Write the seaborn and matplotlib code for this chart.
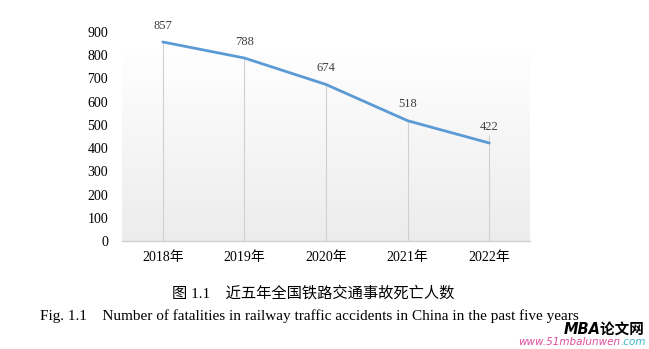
import numpy as np
import pandas as pd
import matplotlib
matplotlib.use("Agg")
import matplotlib.pyplot as plt
import seaborn as sns
from matplotlib.colors import LinearSegmentedColormap

years = ["2018年", "2019年", "2020年", "2021年", "2022年"]
deaths = [857, 788, 674, 518, 422]
yticks = [0, 100, 200, 300, 400, 500, 600, 700, 800, 900]
title_cn = "图 1.1    近五年全国铁路交通事故死亡人数"
title_en = "Fig. 1.1    Number of fatalities in railway traffic accidents in China in the past five years"

sns.set_theme(style="white")
fam = ["Liberation Serif", "Noto Sans CJK SC", "DejaVu Sans"]
plt.rcParams["font.family"] = fam

df = pd.DataFrame({"year": years, "deaths": deaths})

fig = plt.figure(figsize=(6.49, 3.49), dpi=100)
ax = fig.add_axes([122/649, 1-241/349, (530-122)/649, (241-32)/349])

# gradient background: white at top, light gray at bottom
grad = np.linspace(0.0, 1.0, 256).reshape(-1, 1)
cmap = LinearSegmentedColormap.from_list("g", ["#ffffff", "#ececec"])
ax.imshow(grad, aspect="auto", cmap=cmap, extent=[-0.5, 4.5, 0, 830],
          origin="upper", zorder=0, vmin=0, vmax=1)

sns.lineplot(data=df, x="year", y="deaths", ax=ax, color="#5b9bd5",
             linewidth=2.0, sort=False, zorder=3)

for i, v in enumerate(deaths):
    top = v + 35 if i == len(deaths) - 1 else v
    ax.vlines(i, 0, top, color="#d0d0d0", linewidth=0.8, zorder=1)
    ax.text(i, v + 45, str(v), ha="center", va="bottom", fontsize=9,
            color="#404040", clip_on=False)

ax.set_xlim(-0.5, 4.5)
ax.set_ylim(0, 900)
ax.set_yticks(yticks)
ax.set_yticklabels([str(t) for t in yticks], fontsize=10, color="#000000")
ax.set_xticks(range(len(years)))
ax.set_xticklabels(years, fontsize=10, color="#000000")
ax.tick_params(axis="y", length=0, pad=10)
ax.tick_params(axis="x", length=0, pad=7)
ax.set_xlabel("")
ax.set_ylabel("")
for s in ["left", "right", "top"]:
    ax.spines[s].set_visible(False)
ax.spines["bottom"].set_color("#d0d0d0")
ax.spines["bottom"].set_linewidth(1.0)
ax.set_facecolor("none")

fig.text(313/649, 1-293/349, title_cn, ha="center", va="center", fontsize=11, color="#000000")
fig.text(40/649, 1-316/349, title_en, ha="left", va="center", fontsize=11, color="#000000")
fig.text(645/649, 1-329/349, "MBA论文网", ha="right", va="center", fontsize=10.5,
         fontweight="bold", fontstyle="italic", color="#000000",
         family=["DejaVu Sans", "Noto Sans CJK SC"])
fig.text(620/649, 1-342/349, "www.51mbalunwen", ha="right", va="center", fontsize=7.5,
         fontstyle="italic", color="#e04c9c", family=["DejaVu Sans"])
fig.text(620/649, 1-342/349, ".com", ha="left", va="center", fontsize=7.5,
         fontstyle="italic", color="#3cb8c8", family=["DejaVu Sans"])

fig.savefig("out.png", dpi=100)
